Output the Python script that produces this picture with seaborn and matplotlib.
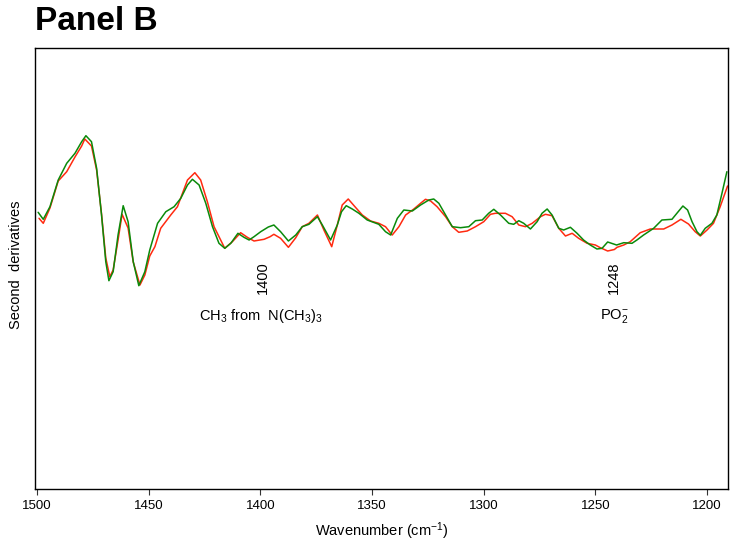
import numpy as np
import pandas as pd
import matplotlib
matplotlib.use("Agg")
import matplotlib.pyplot as plt
import seaborn as sns

# ---- data (second-derivative spectra, arbitrary units) ----
green_wn = [1499.6, 1497.3, 1494.3, 1490.6, 1486.8, 1483.1, 1480.1, 1478.2, 1475.7, 1473.4,
            1471.2, 1469.3, 1467.9, 1466.0, 1463.8, 1461.5, 1459.3, 1457.0, 1454.5, 1451.8,
            1449.6, 1446.1, 1442.4, 1438.7, 1435.7, 1432.7, 1430.5, 1427.5, 1424.5, 1421.5,
            1418.6, 1416.0, 1413.3, 1410.1, 1407.4, 1405.1, 1402.9, 1399.9, 1396.5, 1394.0,
            1391.0, 1387.5, 1384.2, 1381.3, 1378.3, 1374.5, 1372.3, 1368.6, 1365.6, 1363.7,
            1361.6, 1358.9, 1355.9, 1352.2, 1347.0, 1344.0, 1341.7, 1338.7, 1335.8, 1332.0,
            1328.3, 1324.6, 1322.4, 1320.1, 1317.1, 1314.1, 1310.4, 1306.7, 1303.7, 1300.7,
            1297.8, 1295.5, 1292.5, 1288.8, 1286.6, 1284.3, 1282.1, 1279.1, 1276.1, 1273.9,
            1271.6, 1269.4, 1266.4, 1264.2, 1261.2, 1258.2, 1255.3, 1252.3, 1249.3, 1247.0,
            1244.5, 1240.5, 1237.3, 1233.6, 1231.4, 1228.4, 1223.9, 1220.2, 1215.7, 1213.5,
            1210.8, 1208.7, 1206.7, 1204.5, 1203.0, 1200.8, 1197.8, 1195.6, 1193.3, 1191.1]
green_val = [0.377, 0.307, 0.433, 0.700, 0.867, 0.967, 1.083, 1.143, 1.083, 0.817,
             0.350, -0.117, -0.307, -0.217, 0.150, 0.443, 0.283, -0.117, -0.357, -0.217,
             0.000, 0.267, 0.383, 0.433, 0.517, 0.650, 0.707, 0.650, 0.467, 0.233,
             0.067, 0.017, 0.067, 0.167, 0.127, 0.100, 0.133, 0.183, 0.230, 0.250,
             0.183, 0.090, 0.150, 0.233, 0.257, 0.333, 0.250, 0.100, 0.250, 0.383,
             0.443, 0.410, 0.367, 0.300, 0.257, 0.183, 0.150, 0.317, 0.400, 0.390,
             0.450, 0.500, 0.510, 0.467, 0.350, 0.233, 0.223, 0.233, 0.293, 0.300,
             0.367, 0.407, 0.350, 0.267, 0.257, 0.293, 0.267, 0.210, 0.283, 0.367,
             0.410, 0.350, 0.217, 0.200, 0.227, 0.167, 0.100, 0.050, 0.010, 0.017,
             0.080, 0.050, 0.073, 0.067, 0.100, 0.150, 0.217, 0.300, 0.307, 0.367,
             0.440, 0.400, 0.283, 0.183, 0.147, 0.217, 0.267, 0.350, 0.567, 0.783]

red_wn = [1499.2, 1497.3, 1494.3, 1490.6, 1486.8, 1483.1, 1480.1, 1478.7, 1475.7, 1473.4,
          1471.2, 1469.3, 1467.5, 1466.0, 1463.8, 1462.0, 1459.3, 1457.0, 1454.0, 1451.8,
          1449.6, 1447.3, 1444.7, 1440.2, 1437.2, 1432.7, 1429.4, 1426.8, 1423.8, 1420.8,
          1416.0, 1412.6, 1408.9, 1405.9, 1402.9, 1398.4, 1395.7, 1394.0, 1391.0, 1387.5,
          1384.2, 1381.3, 1378.3, 1374.5, 1371.6, 1368.1, 1365.6, 1363.4, 1360.7, 1357.7,
          1354.4, 1350.7, 1347.0, 1344.0, 1341.0, 1338.0, 1335.0, 1331.3, 1328.3, 1326.1,
          1323.8, 1320.9, 1317.1, 1314.1, 1311.2, 1307.4, 1303.7, 1300.0, 1297.0, 1294.8,
          1290.3, 1287.3, 1284.3, 1281.3, 1278.3, 1274.6, 1272.4, 1269.4, 1266.4, 1263.4,
          1260.4, 1257.5, 1253.7, 1250.0, 1247.8, 1244.5, 1241.5, 1240.3, 1237.3, 1234.4,
          1229.9, 1225.4, 1219.4, 1215.7, 1211.7, 1208.3, 1205.3, 1203.0, 1200.0, 1197.1,
          1194.1, 1190.8]
red_val = [0.317, 0.267, 0.420, 0.690, 0.783, 0.930, 1.040, 1.110, 1.040, 0.800,
           0.360, -0.080, -0.267, -0.200, 0.100, 0.357, 0.220, -0.120, -0.350, -0.250,
           -0.060, 0.033, 0.217, 0.350, 0.433, 0.700, 0.773, 0.700, 0.483, 0.233,
           0.017, 0.083, 0.173, 0.127, 0.090, 0.107, 0.133, 0.157, 0.117, 0.027,
           0.123, 0.233, 0.267, 0.350, 0.200, 0.033, 0.250, 0.450, 0.510, 0.433,
           0.350, 0.290, 0.267, 0.233, 0.150, 0.233, 0.350, 0.410, 0.467, 0.507,
           0.490, 0.433, 0.333, 0.233, 0.177, 0.190, 0.233, 0.283, 0.357, 0.367,
           0.367, 0.333, 0.250, 0.233, 0.267, 0.333, 0.357, 0.343, 0.217, 0.140,
           0.167, 0.117, 0.067, 0.050, 0.023, -0.010, 0.005, 0.027, 0.050, 0.083,
           0.173, 0.210, 0.210, 0.250, 0.307, 0.260, 0.183, 0.140, 0.200, 0.267,
           0.433, 0.640]

xticks = [1500, 1450, 1400, 1350, 1300, 1250, 1200]

# ---- figure ----
sns.set_style("white")
plt.rcParams['font.family'] = ['Liberation Sans', 'DejaVu Sans']
plt.rcParams['mathtext.fontset'] = 'custom'
plt.rcParams['mathtext.rm'] = 'Liberation Sans'
plt.rcParams['mathtext.it'] = 'Liberation Sans:italic'
plt.rcParams['text.color'] = 'black'
plt.rcParams['axes.labelcolor'] = 'black'
plt.rcParams['xtick.color'] = 'black'
plt.rcParams['lines.solid_joinstyle'] = 'round'

fig = plt.figure(figsize=(7.30, 5.41), dpi=100)
ax = fig.add_axes([35/730, 1-489/541, (728-35)/730, (489-48)/541])

red_df = pd.DataFrame({"wn": red_wn, "val": red_val})
green_df = pd.DataFrame({"wn": green_wn, "val": green_val})
sns.lineplot(data=red_df, x="wn", y="val", color="#ff2a10", lw=1.1, sort=False,
             estimator=None, ax=ax)
sns.lineplot(data=green_df, x="wn", y="val", color="#0a8a0a", lw=1.1, sort=False,
             estimator=None, ax=ax)

ax.set_xlim(1501, 1190.6)
ax.set_ylim(-2.39, 2.02)
ax.set_xticks(xticks)
ax.set_xticklabels([str(t) for t in xticks], fontsize=9.5)
ax.set_yticks([])
ax.tick_params(axis='x', direction='out', length=4, width=0.8, color='#333333', pad=4,
               bottom=True, labelcolor='black')
for s in ax.spines.values():
    s.set_color('black')
    s.set_linewidth(1.0)
ax.set_xlabel("Wavenumber (cm$^{-1}$)", fontsize=10.5, labelpad=6, color='black')
ax.set_ylabel("")

# annotations
ax.text(1399, -0.28, "1400", rotation=90, ha='center', va='center', fontsize=10.5)
ax.text(1241.6, -0.28, "1248", rotation=90, ha='center', va='center', fontsize=10.5)
ax.text(1400, -0.66, r"CH$_3$ from  N(CH$_3$)$_3$", ha='center', va='center', fontsize=10.5)
ax.text(1241.6, -0.66, r"PO$_2^{-}$", ha='center', va='center', fontsize=10.5)

fig.text(35/730, 1-22/541, "Panel B", fontsize=24, fontweight='bold', ha='left', va='center')
fig.text(16/730, 1-265/541, "Second  derivatives", rotation=90, ha='center', va='center',
         fontsize=10.5)

fig.savefig("out.png", dpi=100)
